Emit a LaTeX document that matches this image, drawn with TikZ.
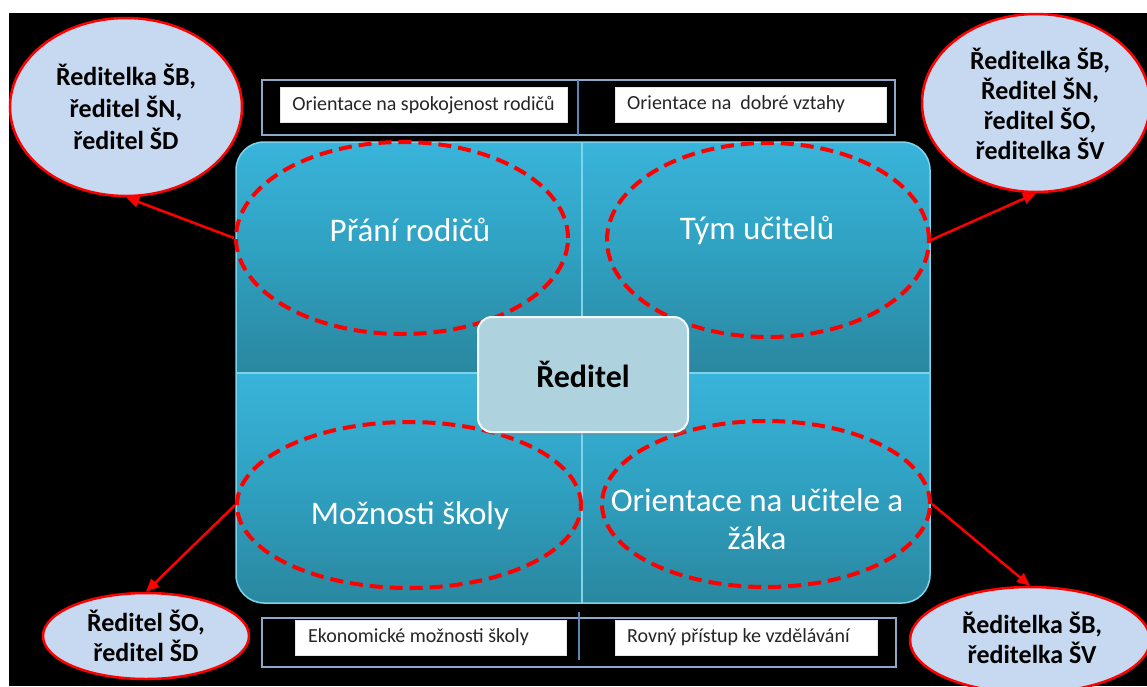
\documentclass[tikz,border=0pt]{standalone}
\usepackage{fontspec}
\setmainfont{Carlito}
\usetikzlibrary{shapes.geometric,arrows.meta,shadows}
\definecolor{bubfill}{HTML}{C6D9F0}
\definecolor{bubred}{HTML}{FF0000}
\definecolor{qtop}{HTML}{39B4DA}
\definecolor{qmid}{HTML}{2FA0C0}
\definecolor{qbot}{HTML}{2A87A0}
\definecolor{seam}{HTML}{7FD3EA}
\definecolor{ctrfill}{HTML}{AED2DE}
\definecolor{barline}{HTML}{8EA9C8}
\definecolor{divline}{HTML}{5B85BC}
\begin{document}
\begin{tikzpicture}[x=1pt,y=-1pt,
  bub/.style={ellipse,draw=bubred,line width=2.5pt,fill=bubfill,inner sep=0pt},
  bubtext/.style={font=\bfseries\fontsize{26}{32}\selectfont,align=center,text=black,inner sep=0pt},
  dash ell/.style={ellipse,draw=bubred,line width=4pt,dash pattern=on 13pt off 7pt,inner sep=0pt},
  qtext/.style={font=\fontsize{33}{38}\selectfont,text=white,align=center,inner sep=0pt},
  whitebox/.style={fill=white,draw=white!80!gray,line width=0.5pt,inner sep=0pt,minimum height=35pt},
  bartext/.style={font=\fontsize{20}{24}\selectfont,inner sep=0pt,anchor=west,text=black!85},
  barbox/.style={draw=barline,line width=2pt},
  arr/.style={draw=bubred,line width=2.5pt,-{Triangle[length=13pt,width=11pt]}},
  ctr/.style={rounded corners=14pt,fill=ctrfill,draw=white!85!ctrfill,line width=2pt,minimum width=210pt,minimum height=115pt,font=\bfseries\fontsize{32}{38}\selectfont,drop shadow={shadow xshift=2pt,shadow yshift=-3pt,opacity=0.35}}
]
\useasboundingbox (0,0) rectangle (1147,686);
\fill[black] (9,13) rectangle (1147,686);

% top and bottom bars
\draw[barbox] (262,80) rectangle (895,135);
\draw[divline,line width=1.5pt] (578,80) -- (578,135);
\draw[barbox] (262,618) rectangle (896,667);
\draw[divline,line width=1.5pt] (579,612) -- (579,660);
\node[whitebox,minimum width=287pt] (b1) at (423.5,105) {};
\node[whitebox,minimum width=271pt] (b2) at (750.5,104.5) {};
\node[whitebox,minimum width=271pt] (b3) at (430.5,637.5) {};
\node[whitebox,minimum width=262pt] (b4) at (746,637.5) {};
\node[bartext,anchor=center] (t1) at (b1) {Orientace na spokojenost rodičů};
\node[bartext] (t2) at (627,104.5) {Orientace na\ \ dobré vztahy};
\node[bartext] (t3) at (308,637.5) {Ekonomické možnosti školy};
\node[bartext] (t4) at (627,637.5) {Rovný přístup ke vzdělávání};

% teal panel
\begin{scope}
\clip[rounded corners=28pt] (236,142) rectangle (930,603);
\shade[top color=qtop,bottom color=qbot,middle color=qmid] (236,142) rectangle (582,372);
\shade[top color=qtop,bottom color=qbot,middle color=qmid] (582,142) rectangle (930,372);
\shade[top color=qtop,bottom color=qbot,middle color=qmid] (236,372) rectangle (582,603);
\shade[top color=qtop,bottom color=qbot,middle color=qmid] (582,372) rectangle (930,603);
\draw[seam,line width=1.5pt] (582,142) -- (582,603);
\draw[seam,line width=2pt] (236,373) -- (930,373);
\end{scope}
\draw[seam,line width=1.5pt,rounded corners=28pt] (236,142) rectangle (930,603);

% dashed ellipses
\node[dash ell,minimum width=332pt,minimum height=192pt] (pr) at (402,238) {};
\node[dash ell,minimum width=322pt,minimum height=194pt] (ty) at (768,240) {};
\node[dash ell,minimum width=344pt,minimum height=166pt] (mo) at (409,505) {};
\node[dash ell,minimum width=328pt,minimum height=166pt] (or) at (766,504) {};
\node[qtext] (prt) at (410,230) {Přání rodičů};
\node[qtext] (tyt) at (757,230) {Tým učitelů};
\node[qtext] (mot) at (410,516) {Možnosti školy};
\node[qtext] (ort) at (757,519) {Orientace na učitele a\\žáka};

% centre
\node[ctr] (r) at (583,374.5) {Ředitel};

% bubbles
\node[bub,minimum width=232pt,minimum height=178pt] (e1) at (126,107) {};
\node[bubtext] (e1t) at (e1) {Ředitelka ŠB,\\ředitel ŠN,\\ředitel ŠD};
\node[bub,minimum width=228pt,minimum height=178pt] (e2) at (1036,103) {};
\node[bubtext,font=\bfseries\fontsize{26}{30}\selectfont] (e2t) at (1040,104) {Ředitelka ŠB,\\Ředitel ŠN,\\ředitel ŠO,\\ředitelka ŠV};
\node[bub,minimum width=206pt,minimum height=86pt] (e3) at (146,636) {};
\node[bubtext,font=\bfseries\fontsize{26}{30}\selectfont] (e3t) at (e3) {Ředitel ŠO,\\ředitel ŠD};
\node[bub,minimum width=240pt,minimum height=106pt] (e4) at (1030,640) {};
\node[bubtext,font=\bfseries\fontsize{26}{30}\selectfont] (e4t) at (1032,638) {Ředitelka ŠB,\\ředitelka ŠV};

% arrows
\draw[arr] (pr.west) -- (e1.south);
\draw[arr] (ty.east) -- (e2.south);
\draw[arr] (mo.west) -- (e3.north);
\draw[arr] (or.east) -- (e4.north);
\end{tikzpicture}
\end{document}
